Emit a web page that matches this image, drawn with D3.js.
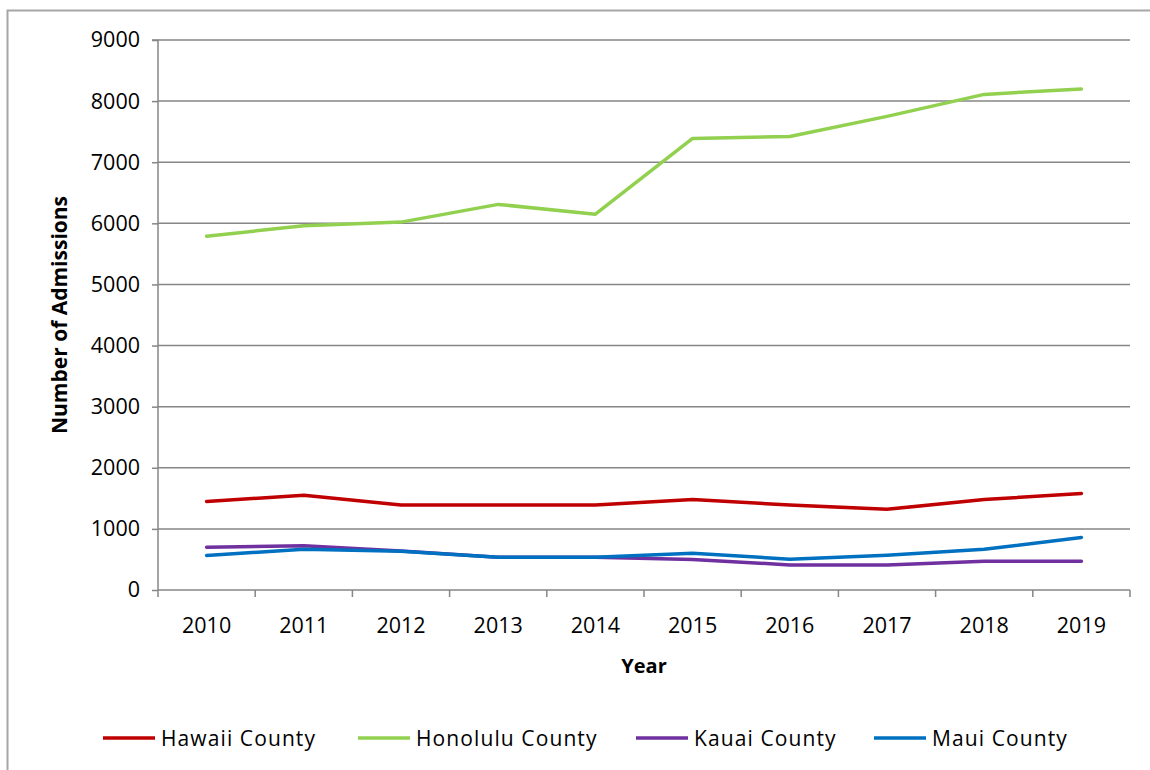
<!DOCTYPE html>
<html><head><meta charset="utf-8">
<script src="https://cdn.jsdelivr.net/npm/d3@7"></script>
<style>body{margin:0;background:#fff}svg{display:block}</style>
</head><body>
<svg id="chart" width="1150" height="770"></svg>
<script>
const years = ["2010","2011","2012","2013","2014","2015","2016","2017","2018","2019"];
const hawaii   = [1450,1550,1390,1390,1390,1480,1390,1320,1480,1580];
const honolulu = [5790,5960,6020,6310,6150,7390,7420,7750,8110,8200];
const kauai    = [700,725,640,535,535,500,410,410,470,470];
const maui     = [565,665,635,535,535,600,505,570,665,860];
const yTicks = [0,1000,2000,3000,4000,5000,6000,7000,8000,9000];
const seriesNames = ["Hawaii County","Honolulu County","Kauai County","Maui County"];
const seriesColors = ["#C00000","#92D050","#7030A0","#0070C0"];
const seriesData = [hawaii, honolulu, kauai, maui];

const svg = d3.select("#chart");
const font = "'Open Sans', Lato, sans-serif";
const L = 158, R = 1130, T = 40, B = 590;

svg.append("rect").attr("x",7.5).attr("y",10.5).attr("width",1160).attr("height",780)
  .attr("fill","none").attr("stroke","#a6a6a6").attr("stroke-width",2);

const x = d3.scaleBand().domain(years).range([L,R]).paddingInner(0).paddingOuter(0);
const y = d3.scaleLinear().domain([0,9000]).range([B,T]);

svg.append("g").selectAll("line").data(yTicks.filter(d=>d>0)).join("line")
  .attr("x1",L).attr("x2",R).attr("y1",d=>y(d)).attr("y2",d=>y(d))
  .attr("stroke","#868686").attr("stroke-width",1.5);

const ya = svg.append("g").attr("transform",`translate(${L},0)`)
  .call(d3.axisLeft(y).tickValues(yTicks).tickSize(6).tickPadding(12).tickFormat(d3.format("d")));
ya.select(".domain").attr("stroke","#868686").attr("stroke-width",1.5).attr("d",`M-6,${T}H0V${B}`);
ya.selectAll(".tick line").attr("stroke","#868686").attr("stroke-width",1.5);
ya.selectAll(".tick text").attr("font-family",font).attr("font-size",21.5).attr("fill","#000");

const xa = svg.append("g").attr("transform",`translate(0,${B})`)
  .call(d3.axisBottom(x).tickSize(0).tickPadding(28));
xa.select(".domain").attr("stroke","#868686").attr("stroke-width",1.5).attr("d",`M${L},0H${R}`);
xa.selectAll(".tick text").attr("font-family",font).attr("font-size",21.5).attr("fill","#000");
const bounds = years.map(d=>x(d)).concat([R]);
svg.append("g").selectAll("line").data(bounds).join("line")
  .attr("x1",d=>d).attr("x2",d=>d).attr("y1",B).attr("y2",B+7)
  .attr("stroke","#868686").attr("stroke-width",1.5);

const line = d3.line().x((d,i)=>x(years[i])+x.bandwidth()/2).y(d=>y(d));
seriesData.forEach((s,k)=>{
  svg.append("path").datum(s).attr("d",line).attr("fill","none")
    .attr("stroke",seriesColors[k]).attr("stroke-width",3.5)
    .attr("stroke-linejoin","round").attr("stroke-linecap","round");
});

svg.append("text").attr("x",(L+R)/2).attr("y",673).attr("text-anchor","middle")
  .attr("font-family",font).attr("font-weight","bold").attr("font-size",20).text("Year");
svg.append("text").attr("transform",`translate(67,${(T+B)/2}) rotate(-90)`).attr("text-anchor","middle")
  .attr("font-family",font).attr("font-weight","bold").attr("font-size",21).text("Number of Admissions");

const legX = [103,358,636,874];
const lg = svg.append("g");
seriesNames.forEach((n,k)=>{
  lg.append("line").attr("x1",legX[k]).attr("x2",legX[k]+52).attr("y1",738).attr("y2",738)
    .attr("stroke",seriesColors[k]).attr("stroke-width",3.5);
  lg.append("text").attr("x",legX[k]+58).attr("y",746).attr("font-family",font).attr("font-size",21)
    .attr("letter-spacing",1.1).text(n);
});
</script>
</body></html>
